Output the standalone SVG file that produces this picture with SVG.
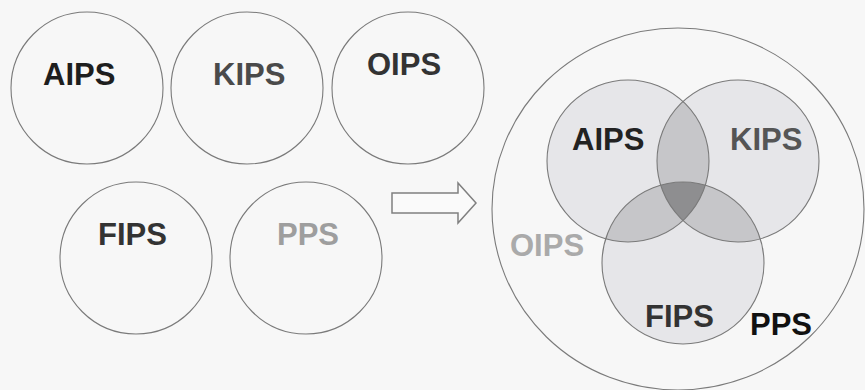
<svg xmlns="http://www.w3.org/2000/svg" width="865" height="390" viewBox="0 0 865 390">
<style>
.c{fill:none;stroke:#7a7a7a;stroke-width:1.1}
.t{font-family:"Liberation Sans",Arial,sans-serif;font-weight:bold;font-size:31px}
.v1{fill:#e6e6e9}
.v2{fill:#c6c6c9}
.v3{fill:#8e8e90}
</style>
<defs>
<clipPath id="clipA"><circle cx="628" cy="161" r="81"/></clipPath>
<clipPath id="clipK"><circle cx="738" cy="161" r="81"/></clipPath>
<clipPath id="clipF"><circle cx="683" cy="263" r="81"/></clipPath>
</defs>
<rect width="865" height="390" fill="#f7f7f7"/>

<g id="left-AIPS"><circle class="c" cx="87" cy="88" r="76"/><text class="t" x="43" y="85" fill="#1e1e1e">AIPS</text></g>
<g id="left-KIPS"><circle class="c" cx="247" cy="88" r="76"/><text class="t" x="213" y="85" fill="#4a4a4a">KIPS</text></g>
<g id="left-OIPS"><circle class="c" cx="408" cy="88" r="76"/><text class="t" x="367" y="75" fill="#333">OIPS</text></g>
<g id="left-FIPS"><circle class="c" cx="136" cy="258" r="76"/><text class="t" x="98" y="245" fill="#333">FIPS</text></g>
<g id="left-PPS"><circle class="c" cx="306" cy="258" r="76"/><text class="t" x="277" y="245" fill="#9e9e9e">PPS</text></g>

<g id="connectors">
<path d="M392 193 H458 V183 L476 203 L458 223 V213 H392 Z" fill="#fafafa" stroke="#808080" stroke-width="1.5"/>
</g>

<g id="right-PPS"><ellipse class="c" cx="678" cy="209" rx="186" ry="181"/></g>
<g id="right-venn">
<circle class="v1" cx="628" cy="161" r="81"/>
<circle class="v1" cx="738" cy="161" r="81"/>
<circle class="v1" cx="683" cy="263" r="81"/>
<circle class="v2" cx="738" cy="161" r="81" clip-path="url(#clipA)"/>
<circle class="v2" cx="683" cy="263" r="81" clip-path="url(#clipA)"/>
<circle class="v2" cx="683" cy="263" r="81" clip-path="url(#clipK)"/>
<g clip-path="url(#clipA)"><circle class="v3" cx="738" cy="161" r="81" clip-path="url(#clipF)"/></g>
</g>
<g id="right-AIPS"><circle class="c" cx="628" cy="161" r="81"/><text class="t" x="572" y="150" fill="#222">AIPS</text></g>
<g id="right-KIPS"><circle class="c" cx="738" cy="161" r="81"/><text class="t" x="730" y="150" fill="#555">KIPS</text></g>
<g id="right-FIPS"><circle class="c" cx="683" cy="263" r="81"/><text class="t" x="645" y="327" fill="#333">FIPS</text></g>
<g id="right-OIPS"><text class="t" x="510" y="256" fill="#aaa">OIPS</text></g>
<g id="right-PPS-label"><text class="t" x="750" y="335" fill="#111">PPS</text></g>
</svg>
